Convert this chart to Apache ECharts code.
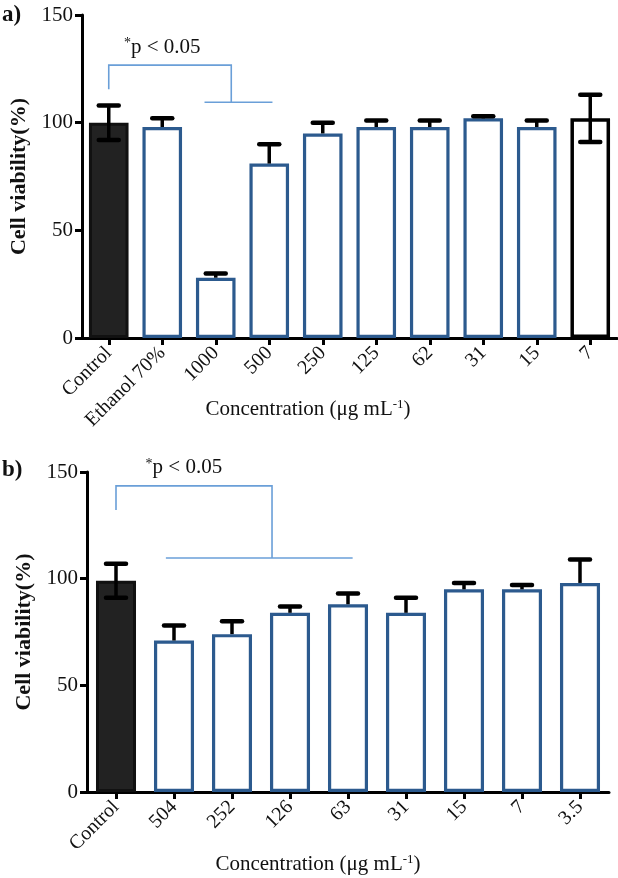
<!DOCTYPE html>
<html>
<head>
<meta charset="utf-8">
<script src="https://cdn.jsdelivr.net/npm/echarts@6/dist/echarts.min.js"></script>
<style>
  html, body { margin: 0; padding: 0; background: #fff; }
  #chart { width: 618px; height: 878px; }
</style>
</head>
<body>
<div id="chart"></div>
<script>
// ---- Data ----
const catsA = ['Control', 'Ethanol 70%', '1000', '500', '250', '125', '62', '31', '15', '7'];
const valsA = [100, 98, 28, 81, 95, 98, 98, 102, 98, 102];
const errA  = [8, 4, 2, 9, 5, 3, 3, 1, 3, 11];

const catsB = ['Control', '504', '252', '126', '63', '31', '15', '7', '3.5'];
const valsB = [99, 71, 74, 84, 88, 84, 95, 95, 98];
const errB  = [8, 7, 6, 3, 5, 7, 3, 2, 11];

const yTicks = [0, 50, 100, 150];

// significance brackets in data units [category position, value]
const bracketA = [[0, 115.5], [0, 126.7], [2.29, 126.7], [2.29, 109.5]];
const bracketAbase = [[1.79, 109.5], [3.06, 109.5]];
const labelA = [1.0, 135];
const bracketB = [[0, 132.2], [0, 143.5], [2.69, 143.5], [2.69, 109.7]];
const bracketBbase = [[0.86, 109.7], [4.08, 109.7]];
const labelB = [1.17, 152];

// ---- Styling ----
const SERIF = '"Palatino Linotype", "Book Antiqua", Palatino, "Liberation Serif", "DejaVu Serif", serif';
const BLUE = '#2c5a8e';
const BRACKET = '#6a9fd8';
const darkIdx = 0;               // control bar is filled black
const blackOutlineA = catsA.length - 1; // last bar of panel a has black outline

function barItems(vals, panel) {
  return vals.map((v, i) => {
    let style;
    if (i === darkIdx) style = { color: '#222', borderColor: '#111', borderWidth: 3 };
    else if (panel === 'a' && i === blackOutlineA) style = { color: '#fff', borderColor: '#000', borderWidth: 3.5 };
    else style = { color: '#fff', borderColor: BLUE, borderWidth: 3.2 };
    return { value: v, itemStyle: style };
  });
}

function errData(vals, errs, bothIdx) {
  return vals.map((v, i) => [i, v, errs[i], bothIdx.indexOf(i) >= 0 ? 1 : 0]);
}

function errRender(params, api) {
  const i = api.value(0), v = api.value(1), e = api.value(2), both = api.value(3);
  const top = api.coord([i, v + e]);
  const mid = api.coord([i, v]);
  const bot = api.coord([i, v - e]);
  const half = 10;
  const st = { stroke: '#000', lineWidth: 3.5 };
  const children = [
    { type: 'line', shape: { x1: top[0], y1: both ? bot[1] : mid[1], x2: top[0], y2: top[1] }, style: st },
    { type: 'line', shape: { x1: top[0] - half, y1: top[1], x2: top[0] + half, y2: top[1] }, style: { stroke: '#000', lineWidth: 4.5, lineCap: 'round' } }
  ];
  if (both) {
    children.push({ type: 'line', shape: { x1: bot[0] - half, y1: bot[1], x2: bot[0] + half, y2: bot[1] }, style: { stroke: '#000', lineWidth: 4.5, lineCap: 'round' } });
  }
  return { type: 'group', children };
}

function bracketRender(main, base, label) {
  return function (params, api) {
    const bw = api.size([1, 0])[0];
    const px = (p) => { const c = api.coord([0, p[1]]); return [c[0] + p[0] * bw, c[1]]; };
    const lp = px(label);
    return {
      type: 'group',
      children: [
        { type: 'polyline', shape: { points: main.map(px) }, style: { stroke: BRACKET, lineWidth: 1.6, fill: null } },
        { type: 'polyline', shape: { points: base.map(px) }, style: { stroke: BRACKET, lineWidth: 1.6, fill: null } },
        { type: 'text', x: lp[0], y: lp[1], style: {
            text: '{s|*}{t|p < 0.05}', align: 'center', verticalAlign: 'middle',
            rich: {
              s: { fontFamily: SERIF, fontSize: 14, fill: '#111', padding: [0, 0, 7, 0] },
              t: { fontFamily: SERIF, fontSize: 21, fill: '#111' }
            }
        } }
      ]
    };
  };
}

const axisLineStyle = { color: '#000', width: 3 };

function yAxisCfg(gridIndex) {
  return {
    type: 'value', gridIndex, min: yTicks[0], max: yTicks[yTicks.length - 1], interval: 50,
    name: 'Cell viability(%)', nameLocation: 'middle', nameGap: 52,
    nameTextStyle: { fontFamily: SERIF, fontSize: 22, fontWeight: 'bold', color: '#111' },
    axisLine: { show: true, lineStyle: axisLineStyle },
    axisTick: { show: true, length: 7, lineStyle: { color: '#000', width: 3 } },
    axisLabel: { fontFamily: SERIF, fontSize: 21, color: '#111', margin: 9 },
    splitLine: { show: false }
  };
}

function xAxisCfg(gridIndex, cats) {
  return {
    type: 'category', gridIndex, data: cats,
    axisLine: { show: true, lineStyle: axisLineStyle },
    axisTick: { show: true, alignWithLabel: true, length: 7, lineStyle: { color: '#000', width: 3 } },
    axisLabel: { rotate: 45, fontFamily: SERIF, fontSize: 20, color: '#111', margin: 12, interval: 0 }
  };
}

const xNameRich = {
  a: { fontFamily: SERIF, fontSize: 21, fill: '#111' },
  sup: { fontFamily: SERIF, fontSize: 13, fill: '#111', padding: [0, 0, 9, 0] }
};

const chart = echarts.init(document.getElementById('chart'), null, { renderer: 'canvas' });
chart.setOption({
  backgroundColor: '#fff',
  animation: false,
  grid: [
    { left: 80, right: 1, top: 15, height: 323 },
    { left: 87, right: 9, top: 472, height: 320 }
  ],
  xAxis: [xAxisCfg(0, catsA), xAxisCfg(1, catsB)],
  yAxis: [yAxisCfg(0), yAxisCfg(1)],
  graphic: [
    { type: 'text', left: 2, top: 4, style: { text: 'a)', font: 'bold 23px ' + SERIF, fill: '#111' } },
    { type: 'text', left: 2, top: 459, style: { text: 'b)', font: 'bold 23px ' + SERIF, fill: '#111' } },
    { type: 'text', x: 308, y: 409, style: { text: '{a|Concentration (μg mL}{sup|-1}{a|)}', align: 'center', verticalAlign: 'middle', rich: xNameRich } },
    { type: 'text', x: 318, y: 864, style: { text: '{a|Concentration (μg mL}{sup|-1}{a|)}', align: 'center', verticalAlign: 'middle', rich: xNameRich } }
  ],
  series: [
    { type: 'bar', xAxisIndex: 0, yAxisIndex: 0, data: barItems(valsA, 'a'), barCategoryGap: '26%', z: 2 },
    { type: 'bar', xAxisIndex: 1, yAxisIndex: 1, data: barItems(valsB, 'b'), barCategoryGap: '31%', z: 2 },
    { type: 'custom', xAxisIndex: 0, yAxisIndex: 0, data: errData(valsA, errA, [0, catsA.length - 1]), renderItem: errRender, z: 3, clip: false },
    { type: 'custom', xAxisIndex: 1, yAxisIndex: 1, data: errData(valsB, errB, [0]), renderItem: errRender, z: 3, clip: false },
    { type: 'custom', xAxisIndex: 0, yAxisIndex: 0, data: [[0, 0]], renderItem: bracketRender(bracketA, bracketAbase, labelA), z: 4, clip: false },
    { type: 'custom', xAxisIndex: 1, yAxisIndex: 1, data: [[0, 0]], renderItem: bracketRender(bracketB, bracketBbase, labelB), z: 4, clip: false }
  ]
});
</script>
</body>
</html>
